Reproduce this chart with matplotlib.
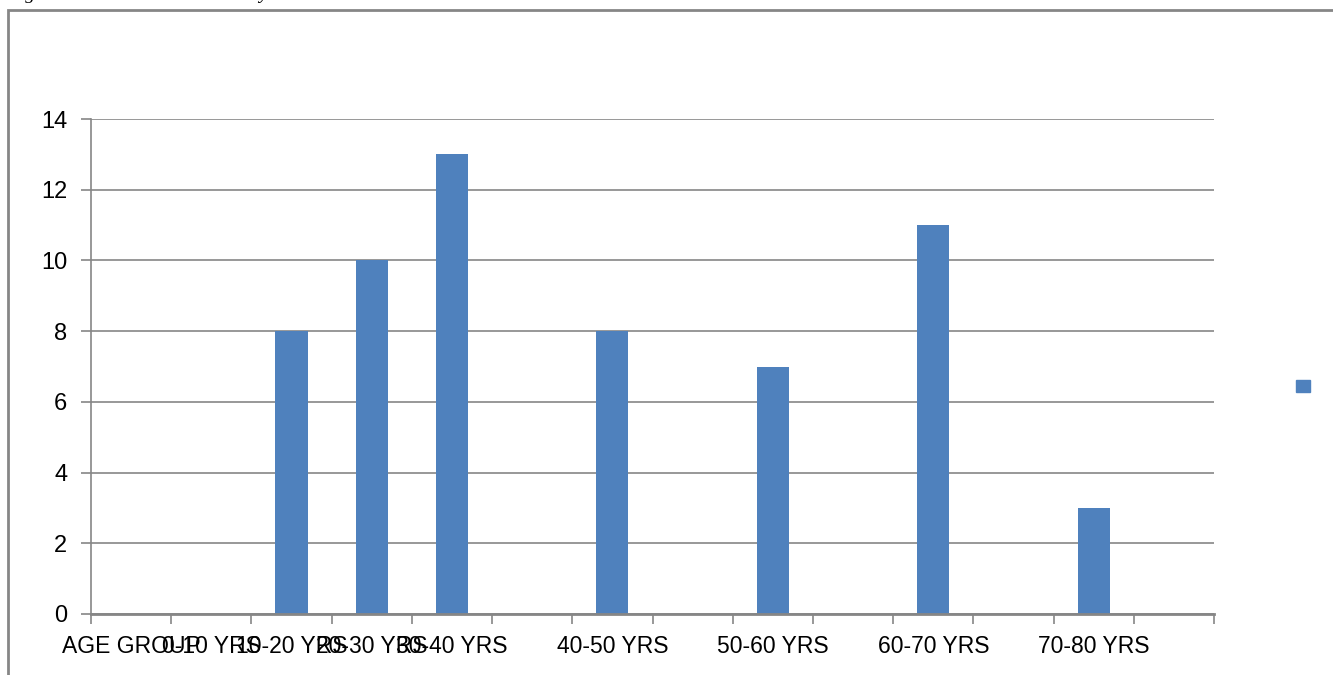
import numpy as np
import matplotlib
matplotlib.use("Agg")
import matplotlib.pyplot as plt
from matplotlib.patches import Patch, Rectangle

# age groups on the category axis (blank slots left empty)
groups = ["AGE GROUP", "0-10 YRS", "10-20 YRS", "20-30 YRS", "30-40 YRS", "",
          "40-50 YRS", "", "50-60 YRS", "", "60-70 YRS", "", "70-80 YRS", ""]
cases = [0, 0, 8, 10, 13, 0, 8, 0, 7, 0, 11, 0, 3, 0]
yticks = [0, 2, 4, 6, 8, 10, 12, 14]

bar_color = "#4F81BD"
line_gray = "#868686"

plt.rcParams["font.family"] = ["Liberation Sans Narrow", "Liberation Sans", "DejaVu Sans"]

fig = plt.figure(figsize=(13.33, 6.75), dpi=100)

# caption above the chart box, cut off by the page edge so only descenders show
fig.text(8 / 1333, 1 + 1.5 / 675, "Figure 2: All cases distributed by AGE",
         family=["Liberation Serif", "DejaVu Serif"], style="italic", fontsize=14,
         ha="left", va="baseline", color="black")

# outer chart border (top and left edges only show)
fig.patches.append(Rectangle((8 / 1333, -0.1), 1.2, 1.1 - 10 / 675, transform=fig.transFigure,
                             fill=False, edgecolor=line_gray, linewidth=2, figure=fig))

ax = fig.add_axes([91 / 1333, 1 - 614 / 675, 1123 / 1333, (614 - 119) / 675])

x = np.arange(len(groups))
ax.bar(x, cases, width=0.4, color=bar_color, zorder=3)

ax.set_xlim(-0.5, len(groups) - 0.5)
ax.set_ylim(0, 14)
ax.set_yticks(yticks)
ax.set_yticklabels([str(v) for v in yticks], fontsize=17)
ax.yaxis.grid(True, color=line_gray, linewidth=1.2, zorder=0)

# tick marks at category boundaries, labels at centres
ax.set_xticks(np.arange(len(groups) + 1) - 0.5)
ax.set_xticklabels([])
ax.set_xticks(x, minor=True)
ax.set_xticklabels(groups, minor=True, fontsize=16.5)
ax.tick_params(axis="x", which="major", direction="out", length=7, width=1.2, color=line_gray)
ax.tick_params(axis="x", which="minor", length=0, pad=15)
ax.tick_params(axis="y", direction="out", length=7, width=1.2, color=line_gray, pad=10)

for side in ["top", "right"]:
    ax.spines[side].set_visible(False)
ax.spines["left"].set_color(line_gray)
ax.spines["left"].set_linewidth(1.2)
ax.spines["bottom"].set_color(line_gray)
ax.spines["bottom"].set_linewidth(2)
ax.spines["bottom"].set_zorder(4)

fig.legend(handles=[Patch(color=bar_color)], labels=[""], loc="center",
           bbox_to_anchor=(1303 / 1333, 1 - 387 / 675), frameon=False, fontsize=10,
           handlelength=1, handleheight=1, handletextpad=0, borderpad=0)

fig.savefig("out.png", dpi=100)
